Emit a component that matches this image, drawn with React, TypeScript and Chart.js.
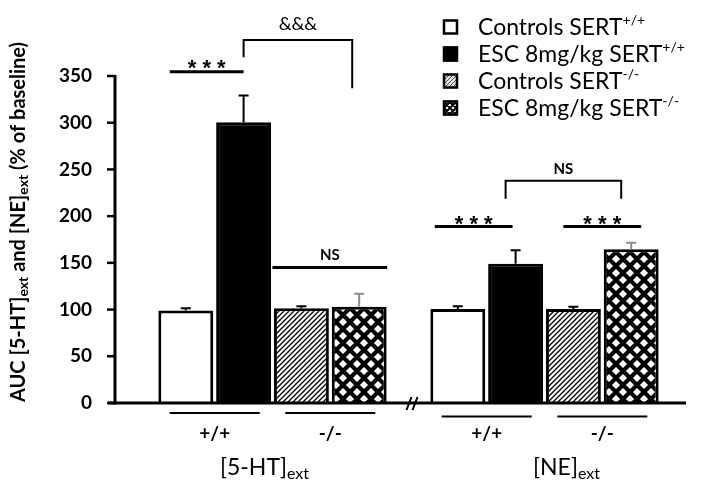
import React, { useEffect, useRef } from 'react';
import { Chart, registerables } from 'chart.js';

Chart.register(...registerables);

// ---------- data ----------
const groupNames = ['[5-HT]', '[NE]'];
const groupSubscript = 'ext';
const genotypeLabels = ['+/+', '-/-'];
const seriesNames = ['Controls SERT', 'ESC 8mg/kg SERT', 'Controls SERT', 'ESC 8mg/kg SERT'];
const seriesSuper = ['+/+', '+/+', '-/-', '-/-'];

const controlsWT = [99, 100.5];
const escWT = [300.5, 149];
const controlsKO = [101.5, 100.5];
const escKO = [103, 164.5];

const controlsWTErr = [2.5, 3];
const escWTErr = [28.5, 14.5];
const controlsKOErr = [2, 2.5];
const escKOErr = [14, 7];

const yTicks = [0, 50, 100, 150, 200, 250, 300, 350];
const yTitleParts: [string, boolean][] = [
  ['AUC [5-HT]', false],
  ['ext', true],
  [' and [NE]', false],
  ['ext', true],
  [' (% of baseline)', false],
];
const sigTexts = ['* * *', '&&&', 'NS', '* * *', '* * *', 'NS'];

// ---------- layout ----------
const FONT = 'Lato, "Open Sans", sans-serif';
const STAR = '"Liberation Sans", Arial, sans-serif';
const W = 701;
const H = 490;

type Ann = {
  kind: 'line' | 'bracket';
  from: [number, number, number];
  to: [number, number, number];
  level: number;
  dropL?: number;
  dropR?: number;
  font: string;
  textDy: number;
  lw: number;
};
const annLayout: Ann[] = [
  { kind: 'line', from: [0, 0, -16], to: [1, 0, 0], level: 354.5, font: `bold 22px ${STAR}`, textDy: 3, lw: 3 },
  { kind: 'bracket', from: [1, 0, 0], to: [3, 0, -7], level: 388.5, dropL: 370, dropR: 337, font: `18px ${FONT}`, textDy: -10, lw: 2 },
  { kind: 'line', from: [2, 0, -29], to: [3, 0, 28], level: 145, font: `bold 15px ${FONT}`, textDy: -8, lw: 3 },
  { kind: 'line', from: [0, 1, -23], to: [1, 1, -3], level: 189, font: `bold 22px ${STAR}`, textDy: 5, lw: 3 },
  { kind: 'line', from: [2, 1, -10], to: [3, 1, 10], level: 189, font: `bold 22px ${STAR}`, textDy: 5, lw: 3 },
  { kind: 'bracket', from: [1, 1, -10], to: [3, 1, -10], level: 238, dropL: 218.5, dropR: 218.5, font: `bold 15px ${FONT}`, textDy: -7, lw: 2 },
];

function makeHatch(color: string, bg: string, s: number, lw: number) {
  const c = document.createElement('canvas');
  c.width = s;
  c.height = s;
  const g = c.getContext('2d')!;
  g.fillStyle = bg;
  g.fillRect(0, 0, s, s);
  g.strokeStyle = color;
  g.lineWidth = lw;
  g.beginPath();
  g.moveTo(-2, s + 2);
  g.lineTo(s + 2, -2);
  g.moveTo(-2, 2);
  g.lineTo(2, -2);
  g.moveTo(s - 2, s + 2);
  g.lineTo(s + 2, s - 2);
  g.stroke();
  return g.createPattern(c, 'repeat')!;
}

function makeCross(s: number, lw: number) {
  const c = document.createElement('canvas');
  c.width = s;
  c.height = s;
  const g = c.getContext('2d')!;
  g.fillStyle = '#fff';
  g.fillRect(0, 0, s, s);
  g.strokeStyle = '#000';
  g.lineWidth = lw;
  g.beginPath();
  const e = 5;
  g.moveTo(-e, -e); g.lineTo(s + e, s + e);
  g.moveTo(s - e, -e); g.lineTo(s + e, e);
  g.moveTo(-e, s - e); g.lineTo(e, s + e);
  g.moveTo(-e, s + e); g.lineTo(s + e, -e);
  g.moveTo(-e, e); g.lineTo(e, -e);
  g.moveTo(s - e, s + e); g.lineTo(s + e, s - e);
  g.stroke();
  return g.createPattern(c, 'repeat')!;
}

type Seg = { t: string; font: string; dy: number };
function drawRich(ctx: CanvasRenderingContext2D, x: number, y: number, segs: Seg[], align: 'center' | 'left') {
  let total = 0;
  const widths = segs.map((s) => {
    ctx.font = s.font;
    const w = ctx.measureText(s.t).width;
    total += w;
    return w;
  });
  let cx = align === 'center' ? x - total / 2 : x;
  ctx.textAlign = 'left';
  segs.forEach((s, i) => {
    ctx.font = s.font;
    ctx.fillText(s.t, cx, y + s.dy);
    cx += widths[i];
  });
}

export default function App() {
  const ref = useRef<HTMLCanvasElement>(null);

  useEffect(() => {
    const canvas = ref.current!;
    const hatch = makeHatch('#000', '#fff', 5, 1.3);
    const hatchGray = makeHatch('#555', '#ddd', 4, 1);
    const cross = makeCross(14, 4.2);
    const crossSmall = makeCross(6, 2);

    const values = [controlsWT, escWT, controlsKO, escKO];
    const errs = [controlsWTErr, escWTErr, controlsKOErr, escKOErr];
    const fills: any[] = ['#fff', '#000', hatch, cross];
    const errColors = ['#000', '#000', '#000', '#8a8a8a'];
    const legendFills: any[] = ['#fff', '#000', hatchGray, crossSmall];

    const overlay = {
      id: 'overlay',
      afterDatasetsDraw(chart: any) {
        const ctx: CanvasRenderingContext2D = chart.ctx;
        const ys = chart.scales.y;
        const py = (v: number) => ys.getPixelForValue(v);
        const bx = (d: number, g: number) => chart.getDatasetMeta(d).data[g].x;
        ctx.save();

        // error bars
        values.forEach((vals, d) => {
          vals.forEach((v, g) => {
            const x = bx(d, g);
            const top = py(v + errs[d][g]);
            ctx.strokeStyle = errColors[d];
            ctx.lineWidth = 2;
            ctx.beginPath();
            ctx.moveTo(x, py(v));
            ctx.lineTo(x, top);
            ctx.moveTo(x - 5, top);
            ctx.lineTo(x + 5, top);
            ctx.stroke();
          });
        });

        // axes
        const ax = 115;
        const y0 = py(0);
        ctx.strokeStyle = '#000';
        ctx.lineCap = 'butt';
        ctx.lineWidth = 3;
        ctx.beginPath();
        ctx.moveTo(ax, py(350) - 1);
        ctx.lineTo(ax, y0 + 1.5);
        ctx.stroke();
        ctx.lineWidth = 2.5;
        yTicks.forEach((t) => {
          ctx.beginPath();
          ctx.moveTo(ax - 8, py(t));
          ctx.lineTo(ax, py(t));
          ctx.stroke();
        });
        ctx.lineWidth = 3;
        ctx.beginPath();
        ctx.moveTo(ax - 7, y0);
        ctx.lineTo(chart.chartArea.right + 5.5, y0);
        ctx.stroke();
        const bxm = (bx(3, 0) + bx(0, 1)) / 2 + 4;
        ctx.lineWidth = 2;
        ctx.beginPath();
        ctx.moveTo(bxm - 6, y0 + 7);
        ctx.lineTo(bxm - 1, y0 - 6);
        ctx.moveTo(bxm, y0 + 7);
        ctx.lineTo(bxm + 5, y0 - 6);
        ctx.stroke();

        // x labels
        ctx.fillStyle = '#000';
        const underY = [y0 + 10, y0 + 13.5];
        groupNames.forEach((gname, g) => {
          genotypeLabels.forEach((lab, p) => {
            const c = (bx(p * 2, g) + bx(p * 2 + 1, g)) / 2;
            ctx.lineWidth = 2;
            ctx.beginPath();
            ctx.moveTo(c - 45, underY[g]);
            ctx.lineTo(c + 45, underY[g]);
            ctx.stroke();
            ctx.font = `bold 19px ${FONT}`;
            ctx.textAlign = 'center';
            ctx.textBaseline = 'middle';
            ctx.fillText(lab, c, 434);
          });
          const gc = (bx(0, g) + bx(3, g)) / 2 + (g === 0 ? -8 : 22);
          ctx.textBaseline = 'alphabetic';
          drawRich(ctx, gc, 475, [
            { t: gname, font: `23px ${FONT}`, dy: 0 },
            { t: groupSubscript, font: `16px ${FONT}`, dy: 4 },
          ], 'center');
        });

        // y title
        ctx.save();
        ctx.translate(25, 222);
        ctx.rotate(-Math.PI / 2);
        ctx.textBaseline = 'alphabetic';
        drawRich(
          ctx,
          0,
          0,
          yTitleParts.map(([t, sub]) => ({ t, font: sub ? `bold 14px ${FONT}` : `bold 20px ${FONT}`, dy: sub ? 3 : 0 })),
          'center'
        );
        ctx.restore();

        // annotations
        annLayout.forEach((a, i) => {
          const x1 = bx(a.from[0], a.from[1]) + a.from[2];
          const x2 = bx(a.to[0], a.to[1]) + a.to[2];
          const yl = py(a.level);
          ctx.strokeStyle = '#000';
          ctx.lineWidth = a.lw;
          ctx.beginPath();
          if (a.kind === 'line') {
            ctx.moveTo(x1, yl);
            ctx.lineTo(x2, yl);
          } else {
            ctx.moveTo(x1, py(a.dropL!));
            ctx.lineTo(x1, yl);
            ctx.lineTo(x2, yl);
            ctx.lineTo(x2, py(a.dropR!));
          }
          ctx.stroke();
          ctx.font = a.font;
          ctx.textAlign = 'center';
          ctx.textBaseline = 'alphabetic';
          ctx.fillText(sigTexts[i], (x1 + x2) / 2, yl + a.textDy);
        });

        // legend
        const lx = 443;
        seriesNames.forEach((name, d) => {
          const ry = 27 + d * 27;
          ctx.fillStyle = legendFills[d];
          ctx.fillRect(lx, ry - 7.5, 15, 15);
          ctx.strokeStyle = '#000';
          ctx.lineWidth = 2.5;
          ctx.strokeRect(lx + 1, ry - 6.5, 13, 13);
          ctx.fillStyle = '#000';
          ctx.textBaseline = 'alphabetic';
          drawRich(ctx, 478, ry + 8, [
            { t: name, font: `23px ${FONT}`, dy: 0 },
            { t: seriesSuper[d], font: `14px ${FONT}`, dy: -10 },
          ], 'left');
        });

        ctx.restore();
      },
    };

    const chart = new Chart(canvas, {
      type: 'bar',
      data: {
        labels: groupNames,
        datasets: values.map((vals, d) => ({
          label: seriesNames[d] + seriesSuper[d],
          data: vals,
          backgroundColor: fills[d],
          borderColor: '#000',
          borderWidth: 3,
          categoryPercentage: 0.85,
          barPercentage: 0.95,
        })),
      },
      options: {
        responsive: false,
        animation: false,
        devicePixelRatio: 1,
        layout: { padding: { left: 0, right: 20.5, top: 76, bottom: 87 } },
        plugins: { legend: { display: false }, tooltip: { enabled: false } },
        scales: {
          x: { display: false },
          y: {
            min: 0,
            max: 350,
            afterFit: (s: any) => {
              s.width = 136.5;
            },
            afterBuildTicks: (s: any) => {
              s.ticks = yTicks.map((v) => ({ value: v }));
            },
            grid: { display: false, drawTicks: false },
            border: { display: false },
            ticks: {
              padding: 44.5,
              color: '#000',
              font: { family: FONT, weight: 'bold', size: 19 },
            },
          },
        },
      },
      plugins: [overlay],
    } as any);

    return () => chart.destroy();
  }, []);

  return (
    <div style={{ position: 'absolute', left: 0, top: 0, width: W, height: H, background: '#fff' }}>
      <canvas ref={ref} width={W} height={H} style={{ display: 'block' }} />
    </div>
  );
}
